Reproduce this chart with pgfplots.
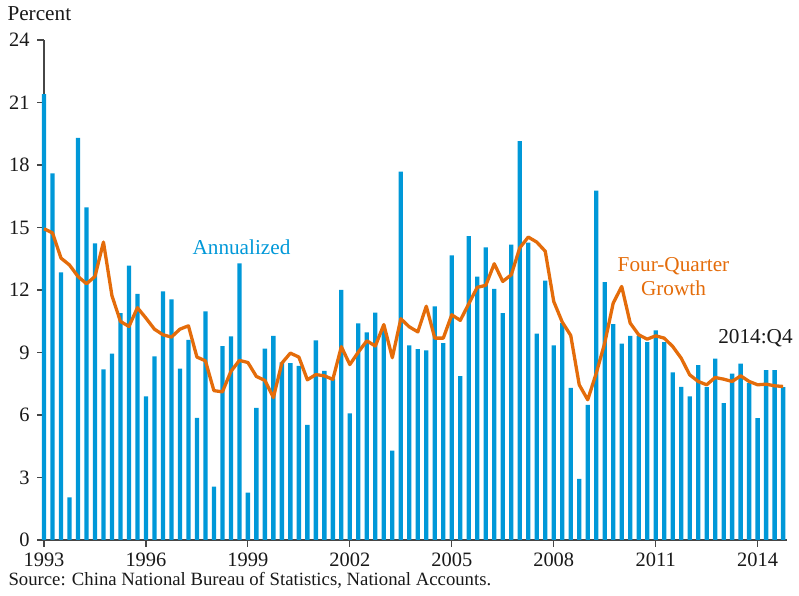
\documentclass[border=0pt]{standalone}
\usepackage{pgfplots}
\pgfplotsset{compat=1.18}
\usepackage{pgfplotstable}
\usepackage{fontspec}
\setmainfont{Liberation Serif}
\definecolor{barblue}{RGB}{0,152,216}
\definecolor{lineorange}{RGB}{228,108,10}
\definecolor{axisgray}{RGB}{70,70,70}
\pgfplotstableread{
t ann fq
1993.00 21.40 14.94
1993.25 17.60 14.74
1993.50 12.85 13.53
1993.75 2.05 13.20
1994.00 19.30 12.65
1994.25 15.97 12.30
1994.50 14.24 12.65
1994.75 8.19 14.30
1995.00 8.95 11.72
1995.25 10.89 10.49
1995.50 13.17 10.25
1995.75 11.81 11.15
1996.00 6.89 10.65
1996.25 8.81 10.12
1996.50 11.93 9.85
1996.75 11.55 9.74
1997.00 8.22 10.12
1997.25 9.61 10.28
1997.50 5.86 8.78
1997.75 10.97 8.60
1998.00 2.56 7.17
1998.25 9.31 7.11
1998.50 9.77 8.09
1998.75 13.28 8.62
1999.00 2.27 8.52
1999.25 6.34 7.85
1999.50 9.19 7.66
1999.75 9.80 6.84
2000.00 8.52 8.49
2000.25 8.49 8.97
2000.50 8.36 8.78
2000.75 5.53 7.69
2001.00 9.58 7.94
2001.25 8.12 7.88
2001.50 7.75 7.71
2001.75 12.01 9.28
2002.00 6.08 8.42
2002.25 10.40 9.02
2002.50 9.97 9.56
2002.75 10.91 9.31
2003.00 10.10 10.34
2003.25 4.29 8.75
2003.50 17.68 10.62
2003.75 9.34 10.23
2004.00 9.16 9.99
2004.25 9.10 11.22
2004.50 11.21 9.69
2004.75 9.45 9.69
2005.00 13.66 10.81
2005.25 7.86 10.54
2005.50 14.58 11.34
2005.75 12.64 12.13
2006.00 14.05 12.22
2006.25 12.05 13.26
2006.50 10.89 12.41
2006.75 14.18 12.73
2007.00 19.14 14.02
2007.25 14.27 14.54
2007.50 9.90 14.30
2007.75 12.45 13.86
2008.00 9.34 11.45
2008.25 10.41 10.46
2008.50 7.30 9.82
2008.75 2.93 7.45
2009.00 6.49 6.73
2009.25 16.77 8.00
2009.50 12.38 9.45
2009.75 10.36 11.37
2010.00 9.43 12.17
2010.25 9.80 10.41
2010.50 9.80 9.85
2010.75 9.50 9.64
2011.00 10.06 9.80
2011.25 9.50 9.69
2011.50 8.04 9.29
2011.75 7.35 8.73
2012.00 6.89 7.93
2012.25 8.39 7.61
2012.50 7.34 7.45
2012.75 8.71 7.80
2013.00 6.57 7.72
2013.25 7.98 7.61
2013.50 8.47 7.88
2013.75 7.53 7.61
2014.00 5.85 7.45
2014.25 8.15 7.48
2014.50 8.15 7.40
2014.75 7.34 7.37
}\datatable
\begin{document}
\begin{tikzpicture}[x=1bp,y=1bp]
\useasboundingbox (0,0) rectangle (799,596);
\begin{axis}[
  at={(44bp,56bp)}, anchor=south west, scale only axis,
  width=742.5bp, height=500bp,
  xmin=1993, xmax=2014.85, ymin=0, ymax=24,
  axis x line*=bottom, axis y line*=left,
  axis line style={axisgray, line width=1.2bp, -},
  xtick={1993,1996,1999,2002,2005,2008,2011,2014},
  ytick={0,3,6,9,12,15,18,21,24},
  tick align=outside, major tick length=7bp,
  tick style={axisgray, line width=1.2bp},
  /pgf/number format/assume math mode=true,
  /pgf/number format/1000 sep={},
  tick label style={font=\fontsize{20.5}{24}\selectfont, text=black!90},
  yticklabel style={xshift=-4bp},
  xticklabel style={yshift=-2bp},
  clip=false,
]
\addplot[ybar, bar width=4.3bp, fill=barblue, draw=none] table[x=t,y=ann]{\datatable};
\addplot[lineorange, line width=3.3bp, line join=round, mark=none] table[x=t,y=fq]{\datatable};
\end{axis}
\node[anchor=base west, font=\fontsize{21.3}{25}\selectfont, text=black!90] at (4,575) {Percent};
\node[anchor=base west, font=\fontsize{18.8}{22}\selectfont, text=black!90] at (5,10) {Source: China National Bureau of Statistics, National Accounts.};
\node[anchor=base, font=\fontsize{21.3}{25}\selectfont, text=barblue] at (241.5,341) {Annualized};
\node[anchor=base, font=\fontsize{21.3}{25}\selectfont, text=lineorange] at (673.5,324) {Four-Quarter};
\node[anchor=base, font=\fontsize{21.3}{25}\selectfont, text=lineorange] at (673.5,300) {Growth};
\node[anchor=base, font=\fontsize{21.3}{25}\selectfont, text=black!90] at (755.5,252) {2014:Q4};
\end{tikzpicture}
\end{document}
